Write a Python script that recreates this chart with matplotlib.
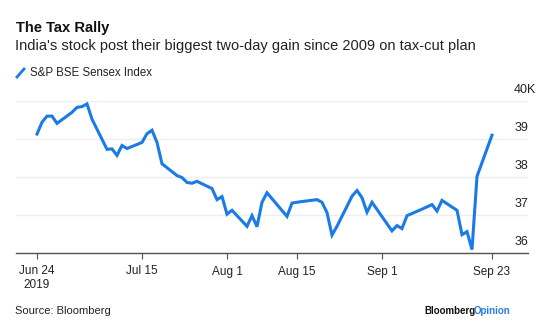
import matplotlib
matplotlib.use("Agg")
import matplotlib.pyplot as plt
import datetime as dt

plt.rcParams['font.family'] = ['Liberation Sans', 'DejaVu Sans']

# trading days and closing values (thousands)
dates = [
    "2019-06-24", "2019-06-25", "2019-06-26", "2019-06-27", "2019-06-28",
    "2019-07-01", "2019-07-02", "2019-07-03", "2019-07-04", "2019-07-05",
    "2019-07-08", "2019-07-09", "2019-07-10", "2019-07-11", "2019-07-12",
    "2019-07-15", "2019-07-16", "2019-07-17", "2019-07-18", "2019-07-19",
    "2019-07-22", "2019-07-23", "2019-07-24", "2019-07-25", "2019-07-26",
    "2019-07-29", "2019-07-30", "2019-07-31", "2019-08-01", "2019-08-02",
    "2019-08-05", "2019-08-06", "2019-08-07", "2019-08-08", "2019-08-09",
    "2019-08-13", "2019-08-14", "2019-08-16",
    "2019-08-19", "2019-08-20", "2019-08-21", "2019-08-22", "2019-08-23",
    "2019-08-26", "2019-08-27", "2019-08-28", "2019-08-29", "2019-08-30",
    "2019-09-03", "2019-09-04", "2019-09-05", "2019-09-06",
    "2019-09-09", "2019-09-11", "2019-09-12", "2019-09-13",
    "2019-09-16", "2019-09-17", "2019-09-18", "2019-09-19", "2019-09-20",
    "2019-09-23",
]
sensex = [
    39.12, 39.43, 39.59, 39.59, 39.40,
    39.69, 39.82, 39.84, 39.91, 39.51,
    38.72, 38.73, 38.56, 38.82, 38.74,
    38.90, 39.13, 39.22, 38.90, 38.34,
    38.03, 37.98, 37.85, 37.83, 37.88,
    37.69, 37.40, 37.48, 37.02, 37.12,
    36.70, 36.98, 36.69, 37.33, 37.58,
    36.96, 37.31, 37.35,
    37.40, 37.33, 37.06, 36.47, 36.70,
    37.49, 37.64, 37.45, 37.07, 37.33,
    36.58, 36.72, 36.64, 36.98,
    37.15, 37.27, 37.10, 37.38,
    37.12, 36.48, 36.56, 36.09, 38.01,
    39.09,
]
x_ticks = ["2019-06-24", "2019-07-15", "2019-08-01", "2019-08-15", "2019-09-01", "2019-09-23"]
x_labels = ["Jun 24\n2019", "Jul 15", "Aug 1", "Aug 15", "Sep 1", "Sep 23"]
y_ticks = [36, 37, 38, 39, 40]
y_labels = ["36", "37", "38", "39", "40K"]

x = [dt.datetime.strptime(d, "%Y-%m-%d") for d in dates]
blue = '#1a7ae6'

fig = plt.figure(figsize=(5.6, 3.22), dpi=100)
ax = fig.add_axes([16/560, 1 - 253/322, 512/560, 152.5/322])

ax.plot(x, sensex, color=blue, linewidth=2.2, solid_joinstyle='miter')

start = dt.datetime(2019, 6, 24)
ax.set_xlim(start - dt.timedelta(days=4.2), start + dt.timedelta(days=98.2))
ax.set_ylim(36, 40)

for s in ['top', 'right', 'left']:
    ax.spines[s].set_visible(False)
ax.spines['bottom'].set_color('#555555')
ax.spines['bottom'].set_linewidth(1.0)

ax.set_xticks([dt.datetime.strptime(d, "%Y-%m-%d") for d in x_ticks])
ax.set_xticklabels(x_labels, fontsize=8.5, color='#222222')
ax.tick_params(axis='x', length=4, width=0.8, color='#555555', pad=5)

ax.set_yticks(y_ticks)
ax.set_yticklabels([])
ax.tick_params(axis='y', length=0)
ax.grid(axis='y', color='#eeeeee', linewidth=1.0)
ax.set_axisbelow(True)
for v, lab in zip(y_ticks, y_labels):
    ax.annotate(lab, xy=(1, v), xycoords=('axes fraction', 'data'),
                xytext=(-10, 3.5), textcoords='offset points',
                ha='left', va='bottom', fontsize=9, color='#222222',
                annotation_clip=False)

fig.text(16/560, 1 - 28/322, "The Tax Rally", fontsize=10.6, fontweight='bold',
         va='center', ha='left', color='#111111')
fig.text(15/560, 1 - 46/322,
         "India's stock post their biggest two-day gain since 2009 on tax-cut plan",
         fontsize=10.5, va='center', ha='left', color='#222222')

# legend swatch
fig.add_artist(plt.Line2D([17/560, 24/560], [1 - 77/322, 1 - 69/322],
                          color=blue, linewidth=2.0, transform=fig.transFigure))
fig.text(30/560, 1 - 73/322, "S&P BSE Sensex Index", fontsize=8.3,
         va='center', ha='left', color='#222222')

fig.text(15/560, 1 - 311/322, "Source: Bloomberg", fontsize=8.0,
         va='center', ha='left', color='#222222')
t = fig.text(424/560, 1 - 311/322, "Bloomberg", fontsize=7.0, fontweight='bold',
             va='center', ha='left', color='#111111')
fig.canvas.draw()
bb = t.get_window_extent()
fig.text((bb.x1 - 1.5) / 560, 1 - 311/322, "Opinion", fontsize=7.0, fontweight='bold',
         va='center', ha='left', color='#2a7de1')

fig.savefig('out.png', dpi=100)
